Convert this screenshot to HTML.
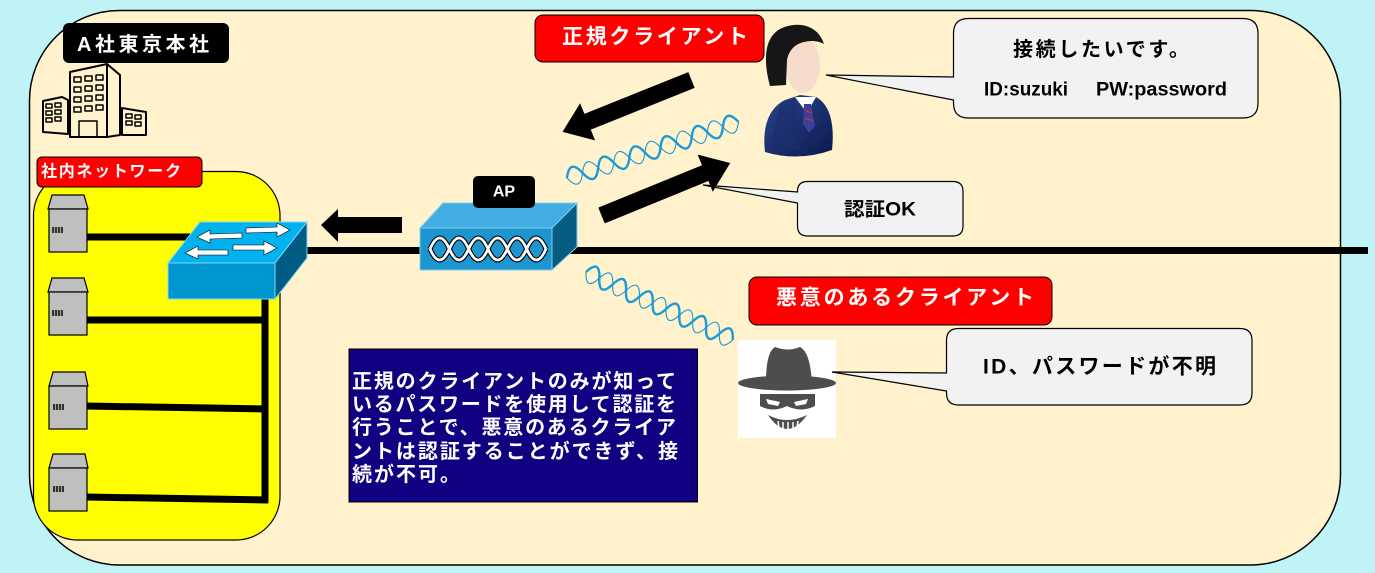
<!DOCTYPE html>
<html><head><meta charset="utf-8"><style>
html,body{margin:0;padding:0;background:#BFF3F6;}
svg{display:block;}
text{font-family:"Liberation Sans","Noto Sans CJK JP",sans-serif;font-weight:bold;}
</style></head><body>
<svg width="1375" height="573" viewBox="0 0 1375 573" xmlns="http://www.w3.org/2000/svg">
<defs>
<linearGradient id="suit" x1="0" y1="0" x2="1" y2="1">
<stop offset="0" stop-color="#2a4590"/><stop offset="1" stop-color="#0c1a4e"/>
</linearGradient>
</defs>
<rect x="0" y="0" width="1375" height="573" fill="#BFF3F6"/>
<!-- outer container -->
<rect x="29.5" y="10.5" width="1311" height="554.5" rx="90" ry="90" fill="#FFF2CC" stroke="#000" stroke-width="1.5"/>

<!-- A社東京本社 label -->
<rect x="63" y="23" width="166" height="40" rx="6" fill="#000"/>
<text x="77" y="45" fill="#fff" font-size="20" dominant-baseline="central" textLength="132" lengthAdjust="spacing">A社東京本社</text>

<!-- building icon -->
<g fill="none" stroke="#000" stroke-width="2" stroke-linejoin="round">
<polygon points="70,72 107,64 120,75 120,135 107,137 70,137" fill="#FFF2CC"/>
<line x1="107" y1="64" x2="107" y2="137"/>
<polygon points="43,101 62,97 68,100 68,134 43,132" fill="#FFF2CC"/>
<polygon points="122,108 146,112 146,135 122,135" fill="#FFF2CC"/>
<g stroke-width="1.5">
<rect x="74" y="77" width="7" height="5"/><rect x="85" y="76" width="7" height="5"/><rect x="96" y="75" width="7" height="5"/>
<rect x="74" y="87" width="7" height="5"/><rect x="85" y="86" width="7" height="5"/><rect x="96" y="85" width="7" height="5"/>
<rect x="74" y="97" width="7" height="5"/><rect x="85" y="96" width="7" height="5"/><rect x="96" y="95" width="7" height="5"/>
<rect x="74" y="107" width="7" height="5"/><rect x="85" y="106" width="7" height="5"/><rect x="96" y="105" width="7" height="5"/>
<rect x="79" y="121" width="18" height="16"/>
<rect x="46" y="104" width="6" height="4"/><rect x="55" y="103" width="6" height="4"/>
<rect x="46" y="111" width="6" height="4"/><rect x="55" y="110" width="6" height="4"/>
<rect x="46" y="118" width="6" height="4"/><rect x="55" y="117" width="6" height="4"/>
<rect x="126" y="114" width="6" height="4"/><rect x="135" y="115" width="6" height="4"/>
<rect x="126" y="121" width="6" height="4"/><rect x="135" y="122" width="6" height="4"/>
</g>
</g>

<!-- yellow internal network -->
<rect x="33.5" y="171.5" width="246.5" height="368.5" rx="44" ry="44" fill="#FFFF00" stroke="#000" stroke-width="1.2"/>
<rect x="37" y="157" width="165" height="30" rx="5" fill="#FF0000" stroke="#000" stroke-width="1"/>
<text x="41" y="172" fill="#fff" font-size="16" dominant-baseline="central" textLength="140" lengthAdjust="spacing">社内ネットワーク</text>

<!-- LAN lines -->
<g fill="none" stroke="#000" stroke-width="7">
<line x1="86" y1="237" x2="190" y2="237"/>
<line x1="86" y1="320" x2="268" y2="320"/>
<line x1="86" y1="406" x2="268" y2="409"/>
<line x1="86" y1="497" x2="268" y2="500"/>
<line x1="265" y1="290" x2="265" y2="503"/>
</g>

<!-- servers -->
<g stroke="#000" stroke-width="1.2" fill="#BFBFBF">
<polygon points="52,195 84,195 88,209 48,209"/><rect x="49" y="209" width="38" height="43"/>
<polygon points="52,278 84,278 88,292 48,292"/><rect x="49" y="292" width="38" height="43"/>
<polygon points="53,372 85,372 88,386 49,386"/><rect x="49" y="386" width="38" height="43"/>
<polygon points="53,454 85,454 88,468 49,468"/><rect x="49" y="468" width="38" height="43"/>
</g>
<g fill="#333">
<rect x="52" y="227" width="11" height="6"/><rect x="52" y="310" width="11" height="6"/>
<rect x="53" y="404" width="11" height="6"/><rect x="53" y="486" width="11" height="6"/>
</g>
<g stroke="#BFBFBF" stroke-width="0.8">
<line x1="54.5" y1="227" x2="54.5" y2="233"/><line x1="57.5" y1="227" x2="57.5" y2="233"/><line x1="60.5" y1="227" x2="60.5" y2="233"/>
<line x1="54.5" y1="310" x2="54.5" y2="316"/><line x1="57.5" y1="310" x2="57.5" y2="316"/><line x1="60.5" y1="310" x2="60.5" y2="316"/>
<line x1="55.5" y1="404" x2="55.5" y2="410"/><line x1="58.5" y1="404" x2="58.5" y2="410"/><line x1="61.5" y1="404" x2="61.5" y2="410"/>
<line x1="55.5" y1="486" x2="55.5" y2="492"/><line x1="58.5" y1="486" x2="58.5" y2="492"/><line x1="61.5" y1="486" x2="61.5" y2="492"/>
</g>

<!-- main backbone line -->
<line x1="300" y1="250.5" x2="1368" y2="250.5" stroke="#000" stroke-width="7"/>

<!-- switch -->
<g stroke="#7FD6F7" stroke-width="1">
<polygon points="200,222 307,222 275,263 168,263" fill="#00B2EE"/>
<rect x="168" y="263" width="107" height="36" fill="#0097D0"/>
<polygon points="275,263 307,222 307,258 275,299" fill="#005C82"/>
</g>
<g fill="#fff" stroke="#000" stroke-width="0.6">
<polygon points="197,237 210,230 210,234 242,233 242,238 210,239 210,243"/>
<polygon points="290,230 277,223 277,227 246,228 246,233 277,232 277,237"/>
<polygon points="185,253 198,246 198,250 228,250 228,255 198,255 198,259"/>
<polygon points="277,248 264,241 264,245 233,245 233,250 264,250 264,255"/>
</g>

<!-- left arrow AP->switch -->
<polygon points="321,225 338,209 338,217 402,217 402,233 338,233 338,242" fill="#000"/>

<!-- AP -->
<g stroke="#7FCFF0" stroke-width="1">
<polygon points="420,228 443,203 577,203 552,228" fill="#41ADE2"/>
<rect x="420" y="228" width="132" height="42" fill="#1E95CE"/>
<polygon points="552,228 577,203 577,247 552,270" fill="#075C82"/>
</g>
<g transform="translate(430,249)" fill="none">
<path d="M0,0 Q9.67,-22 19.33,0 T38.67,0 T58,0 T77.33,0 T96.67,0 T116,0" stroke="#000" stroke-width="5"/>
<path d="M0,0 Q9.67,22 19.33,0 T38.67,0 T58,0 T77.33,0 T96.67,0 T116,0" stroke="#000" stroke-width="5"/>
<path d="M0,0 Q9.67,-22 19.33,0 T38.67,0 T58,0 T77.33,0 T96.67,0 T116,0" stroke="#fff" stroke-width="2.8"/>
<path d="M0,0 Q9.67,22 19.33,0 T38.67,0 T58,0 T77.33,0 T96.67,0 T116,0" stroke="#fff" stroke-width="2.8"/>
</g>
<rect x="473" y="176" width="62" height="32" rx="5" fill="#000"/>
<text x="504" y="192" fill="#fff" font-size="16" text-anchor="middle" dominant-baseline="central">AP</text>

<!-- helix upper -->
<g transform="translate(567,178) rotate(-18.1)" fill="none" stroke="#1A9AD6">
<path d="M0,0 Q8.2,-18 16.4,0 T32.8,0 T49.2,0 T65.6,0 T82,0 T98.4,0 T114.8,0 T131.2,0 T147.6,0 T164,0 T180.4,0" stroke-width="2.4"/>
<path d="M0,0 Q8.2,18 16.4,0 T32.8,0 T49.2,0 T65.6,0 T82,0 T98.4,0 T114.8,0 T131.2,0 T147.6,0 T164,0 T180.4,0" stroke-width="1.1"/>
</g>
<!-- helix lower -->
<g transform="translate(586,272) rotate(24.8)" fill="none" stroke="#1A9AD6">
<path d="M0,0 Q7.35,-18 14.7,0 T29.4,0 T44.1,0 T58.8,0 T73.5,0 T88.2,0 T102.9,0 T117.6,0 T132.3,0 T147,0 T161.7,0" stroke-width="2.4"/>
<path d="M0,0 Q7.35,18 14.7,0 T29.4,0 T44.1,0 T58.8,0 T73.5,0 T88.2,0 T102.9,0 T117.6,0 T132.3,0 T147,0 T161.7,0" stroke-width="1.1"/>
</g>

<!-- big arrows -->
<polygon transform="translate(691.5,80) rotate(158.1)" points="0,-8.5 112,-8.5 112,-20 139,0 112,20 112,8.5 0,8.5" fill="#000"/>
<polygon transform="translate(601.5,215.5) rotate(-22.2)" points="0,-8.5 112,-8.5 112,-20 139,0 112,20 112,8.5 0,8.5" fill="#000"/>

<!-- 正規クライアント label -->
<rect x="535" y="15" width="229" height="47" rx="8" fill="#FF0000" stroke="#000" stroke-width="1"/>
<text x="562" y="37" fill="#fff" font-size="21" dominant-baseline="central" textLength="186" lengthAdjust="spacing">正規クライアント</text>

<!-- person icon -->
<path d="M765,152 C762,126 769,108 785,100 L800,95 L816,97 C829,104 835,122 832,150 Q798,162 765,152 Z" fill="url(#suit)"/>
<path d="M780,104 L795,98 L800,150 L770,148 Z" fill="#1b2f6e" opacity="0.6"/>
<polygon points="795,97 816,97 807,113" fill="#fff"/>
<polygon points="804,104 811,104 815,126 809,133 803,124" fill="#3b3f9a"/>
<line x1="805" y1="110" x2="812" y2="113" stroke="#c0303a" stroke-width="1.5"/>
<line x1="805" y1="118" x2="813" y2="121" stroke="#c0303a" stroke-width="1.5"/>
<ellipse cx="803" cy="65" rx="17" ry="28" fill="#F6DCCB"/>
<path d="M770,86 C763,60 764,36 782,28 C798,21 818,25 824,44 C819,41 811,40 804,42 C795,44 789,50 787,60 L786,85 Z" fill="#161616"/>

<!-- bubble 1 -->
<path d="M968.5,18.5 H1243 Q1258,18.5 1258,33.5 V103 Q1258,118 1243,118 H968.5 Q953.5,118 953.5,103 V100 L826,75 L953.5,77 V33.5 Q953.5,18.5 968.5,18.5 Z" fill="#F2F2F2" stroke="#000" stroke-width="1.2"/>
<text x="1013" y="50" fill="#000" font-size="20" dominant-baseline="central" textLength="176" lengthAdjust="spacing">接続したいです。</text>
<text x="984" y="90" fill="#000" font-size="19" dominant-baseline="central" textLength="84" lengthAdjust="spacingAndGlyphs">ID:suzuki</text>
<text x="1096" y="90" fill="#000" font-size="19" dominant-baseline="central" textLength="131" lengthAdjust="spacingAndGlyphs">PW:password</text>

<!-- bubble 2 -->
<path d="M807.5,181.5 H953 Q963,181.5 963,191.5 V226 Q963,236 953,236 H807.5 Q797.5,236 797.5,226 V203 L703,185 L797.5,192 V191.5 Q797.5,181.5 807.5,181.5 Z" fill="#F2F2F2" stroke="#000" stroke-width="1.2"/>
<text x="844" y="210" fill="#000" font-size="19" dominant-baseline="central" textLength="72" lengthAdjust="spacingAndGlyphs">認証OK</text>

<!-- 悪意のあるクライアント label -->
<rect x="749" y="277" width="303" height="48" rx="8" fill="#FF0000" stroke="#000" stroke-width="1"/>
<text x="776" y="298" fill="#fff" font-size="21" dominant-baseline="central" textLength="258" lengthAdjust="spacing">悪意のあるクライアント</text>

<!-- hacker icon -->
<rect x="738" y="340" width="98" height="98" fill="#fff"/>
<path d="M766,383 C766,366 768,351 775,347 Q788,352 800,347 C808,351 811,366 812,383 Z" fill="#4D4D4D"/>
<ellipse cx="787" cy="383" rx="49" ry="7.5" fill="#4D4D4D"/>
<path d="M760,394 H815 V406 Q801,413 787,406 Q773,413 760,406 Z" fill="#4D4D4D"/>
<polygon points="766,399 780,402 778,406 768,404" fill="#fff"/>
<polygon points="808,399 794,402 796,406 806,404" fill="#fff"/>
<path d="M768,415 Q787,443 807,415 Q787,425 768,415 Z" fill="#4D4D4D"/>
<g stroke="#fff" stroke-width="1.5">
<line x1="778" y1="421" x2="779" y2="428"/><line x1="783" y1="422" x2="783" y2="430"/><line x1="788" y1="422" x2="788" y2="430"/><line x1="793" y1="422" x2="793" y2="429"/><line x1="798" y1="421" x2="797" y2="427"/>
</g>

<!-- bubble 3 -->
<path d="M958.5,328.5 H1240 Q1252,328.5 1252,340.5 V393 Q1252,405 1240,405 H958.5 Q946.5,405 946.5,393 V391 L832,372 L946.5,373 V340.5 Q946.5,328.5 958.5,328.5 Z" fill="#F2F2F2" stroke="#000" stroke-width="1.2"/>
<text x="983" y="367" fill="#000" font-size="21" dominant-baseline="central" textLength="233" lengthAdjust="spacing">ID、パスワードが不明</text>

<!-- explanation box -->
<rect x="349" y="349" width="348.5" height="153" fill="#110080" stroke="#000" stroke-width="1"/>
<g fill="#fff" font-size="20">
<text x="352" y="382" dominant-baseline="central" textLength="324" lengthAdjust="spacing">正規のクライアントのみが知って</text>
<text x="352" y="405" dominant-baseline="central" textLength="324" lengthAdjust="spacing">いるパスワードを使用して認証を</text>
<text x="352" y="428" dominant-baseline="central" textLength="324" lengthAdjust="spacing">行うことで、悪意のあるクライア</text>
<text x="352" y="452" dominant-baseline="central" textLength="326" lengthAdjust="spacing">ントは認証することができず、接</text>
<text x="352" y="475" dominant-baseline="central" textLength="108" lengthAdjust="spacing">続が不可。</text>
</g>
</svg>
</body></html>
